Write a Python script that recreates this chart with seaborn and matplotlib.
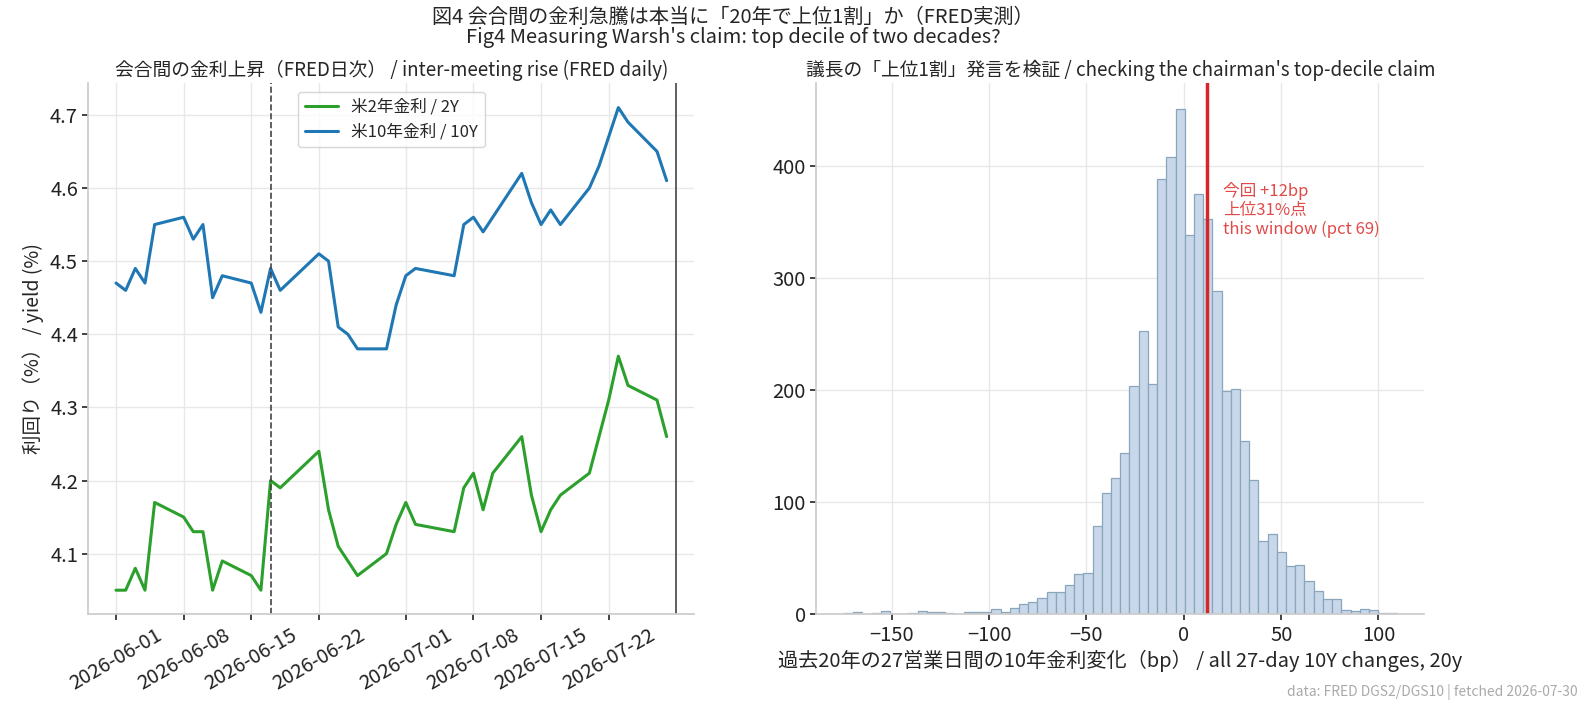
import numpy as np
import pandas as pd
import matplotlib
matplotlib.use("Agg")
import matplotlib.pyplot as plt
import seaborn as sns

# --- values ---
dates = [
    "2026-06-01", "2026-06-02", "2026-06-03", "2026-06-04", "2026-06-05",
    "2026-06-08", "2026-06-09", "2026-06-10", "2026-06-11", "2026-06-12",
    "2026-06-15", "2026-06-16", "2026-06-17", "2026-06-18",
    "2026-06-22", "2026-06-23", "2026-06-24", "2026-06-25", "2026-06-26",
    "2026-06-29", "2026-06-30", "2026-07-01", "2026-07-02",
    "2026-07-06", "2026-07-07", "2026-07-08", "2026-07-09", "2026-07-10",
    "2026-07-13", "2026-07-14", "2026-07-15", "2026-07-16", "2026-07-17",
    "2026-07-20", "2026-07-21", "2026-07-22", "2026-07-23", "2026-07-24",
    "2026-07-27", "2026-07-28",
]
yield_2y = [
    4.05, 4.05, 4.08, 4.05, 4.17,
    4.15, 4.13, 4.13, 4.05, 4.09,
    4.07, 4.05, 4.20, 4.19,
    4.24, 4.16, 4.11, 4.09, 4.07,
    4.10, 4.14, 4.17, 4.14,
    4.13, 4.19, 4.21, 4.16, 4.21,
    4.26, 4.18, 4.13, 4.16, 4.18,
    4.21, 4.26, 4.31, 4.37, 4.33,
    4.31, 4.26,
]
yield_10y = [
    4.47, 4.46, 4.49, 4.47, 4.55,
    4.56, 4.53, 4.55, 4.45, 4.48,
    4.47, 4.43, 4.49, 4.46,
    4.51, 4.50, 4.41, 4.40, 4.38,
    4.38, 4.44, 4.48, 4.49,
    4.48, 4.55, 4.56, 4.54, 4.56,
    4.62, 4.58, 4.55, 4.57, 4.55,
    4.60, 4.63, 4.67, 4.71, 4.69,
    4.65, 4.61,
]
last_meeting = "2026-06-17"
next_meeting = "2026-07-29"

# 27-day 10Y changes over 20y (bp): 60 equal bins between min and max
change_min, change_max = -174.5, 109.3
change_counts = [
    1, 2, 0, 1, 3, 0, 0, 1, 3, 2,
    2, 1, 0, 2, 2, 2, 5, 2, 6, 9,
    11, 15, 20, 20, 26, 36, 37, 79, 108, 122,
    144, 204, 253, 205, 388, 408, 451, 338, 375, 353,
    288, 199, 201, 155, 120, 65, 72, 56, 43, 44,
    30, 21, 14, 14, 4, 3, 5, 4, 1, 1,
]
this_window_bp = 12
this_window_pct = 69

# --- style ---
sns.set_theme(style="whitegrid", rc={
    "axes.edgecolor": "#cccccc",
    "grid.color": "#e8e8e8",
    "xtick.bottom": True,
    "ytick.left": True,
    "xtick.color": "#222222",
    "ytick.color": "#222222",
    "xtick.major.size": 4,
    "ytick.major.size": 4,
    "xtick.major.width": 1.2,
    "ytick.major.width": 1.2,
})
plt.rcParams["font.family"] = ["Noto Sans CJK JP", "DejaVu Sans"]

df = pd.DataFrame({
    "date": pd.to_datetime(dates),
    "y2": yield_2y,
    "y10": yield_10y,
})

edges = np.linspace(change_min, change_max, len(change_counts) + 1)
hist_df = pd.DataFrame({
    "change": (edges[:-1] + edges[1:]) / 2,
    "count": change_counts,
})

fig = plt.figure(figsize=(15.94, 7.16), dpi=100)
ax1 = fig.add_axes([0.0555, 0.142, 0.380, 0.7415])
ax2 = fig.add_axes([0.5121, 0.142, 0.3814, 0.7415])

# left: daily yields between meetings
sns.lineplot(data=df, x="date", y="y2", ax=ax1, color="#2ca02c", linewidth=2.2,
             label="米2年金利 / 2Y")
sns.lineplot(data=df, x="date", y="y10", ax=ax1, color="#1f77b4", linewidth=2.2,
             label="米10年金利 / 10Y")
ax1.axvline(pd.Timestamp(last_meeting), color="#444444", linestyle="--", linewidth=1.2)
ax1.axvline(pd.Timestamp(next_meeting), color="#444444", linestyle="-", linewidth=1.2)
ax1.set_xlabel("")
ax1.set_ylabel("利回り（%） / yield (%)", fontsize=14)
ax1.set_title("会合間の金利上昇（FRED日次） / inter-meeting rise (FRED daily)", fontsize=13.5, pad=5)
ax1.tick_params(axis="both", labelsize=14.5)
ax1.tick_params(axis="x", labelrotation=30)
ax1.legend(loc="upper center", fontsize=12, frameon=True, edgecolor="#cccccc")

# right: distribution of 27-day changes
sns.histplot(data=hist_df, x="change", weights="count", bins=list(edges), ax=ax2,
             color="#c8d8ea", edgecolor="#8aa6bc", linewidth=0.9, alpha=1)
ax2.axvline(this_window_bp, color="#d62728", linewidth=2.5)
ax2.text(this_window_bp + 8, 386,
         f"今回 +{this_window_bp}bp\n上位{100 - this_window_pct}%点\nthis window (pct {this_window_pct})",
         color="#e24a4a", fontsize=12, va="top", ha="left", linespacing=1.15)
ax2.set_ylabel("")
ax2.set_xlabel("過去20年の27営業日間の10年金利変化（bp） / all 27-day 10Y changes, 20y",
               fontsize=14.5, labelpad=3)
ax2.set_title("議長の「上位1割」発言を検証 / checking the chairman's top-decile claim",
              fontsize=13.5, pad=5)
ax2.tick_params(axis="both", labelsize=14.5)

sns.despine(fig=fig)

fig.suptitle("図4 会合間の金利急騰は本当に「20年で上位1割」か（FRED実測）\n"
             "Fig4 Measuring Warsh's claim: top decile of two decades?",
             x=0.46, y=0.99, fontsize=14.5, linespacing=0.95)
fig.text(0.99, 0.022, "data: FRED DGS2/DGS10 | fetched 2026-07-30",
         ha="right", va="bottom", fontsize=10, color="#aaaaaa")

fig.savefig("out.png", dpi=100)
